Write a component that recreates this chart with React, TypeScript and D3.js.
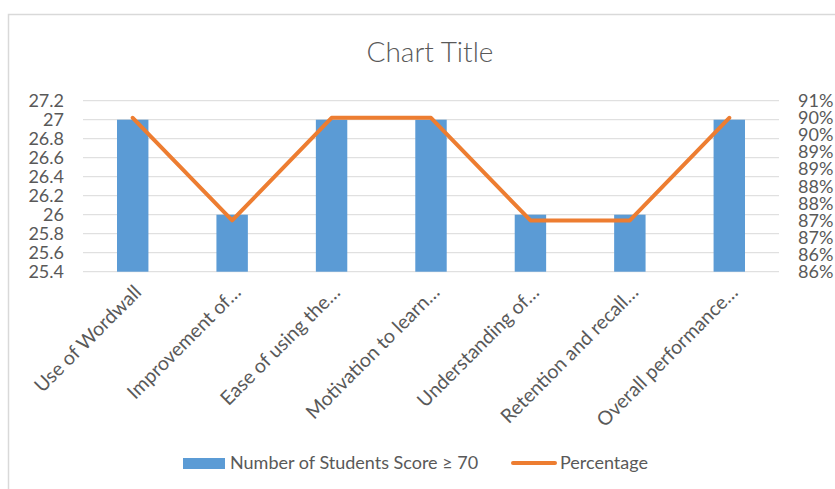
import React, { useRef, useEffect } from 'react';
import * as d3 from 'd3';

const categories = [
  'Use of Wordwall',
  'Improvement of…',
  'Ease of using the…',
  'Motivation to learn…',
  'Understanding of…',
  'Retention and recall…',
  'Overall performance…',
];
const studentCounts = [27, 26, 27, 27, 26, 26, 27];
const percentages = [0.905, 0.875, 0.905, 0.905, 0.875, 0.875, 0.905];

const leftTicks = [25.4, 25.6, 25.8, 26, 26.2, 26.4, 26.6, 26.8, 27, 27.2];
const rightTicks = [0.86, 0.865, 0.87, 0.875, 0.88, 0.885, 0.89, 0.895, 0.9, 0.905, 0.91];
const rightTickLabels = ['86%', '86%', '87%', '87%', '88%', '88%', '89%', '89%', '90%', '90%', '91%'];

const barLabel = 'Number of Students Score ≥ 70';
const lineLabel = 'Percentage';

const App: React.FC = () => {
  const svgRef = useRef<SVGSVGElement | null>(null);

  useEffect(() => {
    if (!svgRef.current) return;
    document.body.style.margin = '0';

    d3.select(svgRef.current).selectAll('*').remove();

    const width = 835;
    const height = 489;
    const font = 'Lato, "Open Sans", sans-serif';
    const textColor = '#595959';

    const svg = d3
      .select(svgRef.current)
      .attr('width', width)
      .attr('height', height)
      .style('display', 'block')
      .style('background', '#fff');

    // chart area border (runs off right and bottom)
    svg
      .append('rect')
      .attr('x', 8.5)
      .attr('y', 14.5)
      .attr('width', 900)
      .attr('height', 600)
      .attr('fill', 'none')
      .attr('stroke', '#d9d9d9')
      .attr('stroke-width', 1.5);

    const plot = { left: 83, right: 779, top: 100.7, bottom: 271.7 };

    const x = d3
      .scaleBand<string>()
      .domain(categories)
      .range([plot.left, plot.right])
      .paddingInner(0.684)
      .paddingOuter(0.342);
    const xCenter = (c: string) => (x(c) as number) + x.bandwidth() / 2;

    const yLeft = d3.scaleLinear().domain([25.4, 27.2]).range([plot.bottom, plot.top]);
    const yRight = d3.scaleLinear().domain([0.86, 0.91]).range([plot.bottom, plot.top]);

    // gridlines
    svg
      .append('g')
      .selectAll('line')
      .data(leftTicks)
      .join('line')
      .attr('x1', plot.left)
      .attr('x2', plot.right)
      .attr('y1', (d) => yLeft(d))
      .attr('y2', (d) => yLeft(d))
      .attr('stroke', '#d9d9d9')
      .attr('stroke-width', 1);

    // left axis labels
    svg
      .append('g')
      .selectAll('text')
      .data(leftTicks)
      .join('text')
      .attr('x', 64)
      .attr('y', (d) => yLeft(d))
      .attr('dy', '0.35em')
      .attr('text-anchor', 'end')
      .attr('font-family', font)
      .attr('font-size', 18)
      .attr('fill', textColor)
      .text((d) => d3.format('~g')(d));

    // right axis labels
    svg
      .append('g')
      .selectAll('text')
      .data(rightTicks)
      .join('text')
      .attr('x', 798)
      .attr('y', (d) => yRight(d))
      .attr('dy', '0.35em')
      .attr('font-family', font)
      .attr('font-size', 18)
      .attr('fill', textColor)
      .text((d, i) => rightTickLabels[i]);

    // bars
    svg
      .append('g')
      .selectAll('rect')
      .data(studentCounts)
      .join('rect')
      .attr('x', (d, i) => x(categories[i]) as number)
      .attr('y', (d) => yLeft(d))
      .attr('width', x.bandwidth())
      .attr('height', (d) => plot.bottom - yLeft(d))
      .attr('fill', '#5b9bd5');

    // percentage line
    const line = d3
      .line<number>()
      .x((d, i) => xCenter(categories[i]))
      .y((d) => yRight(d));

    svg
      .append('path')
      .datum(percentages)
      .attr('d', line)
      .attr('fill', 'none')
      .attr('stroke', '#ed7d31')
      .attr('stroke-width', 4)
      .attr('stroke-linejoin', 'round')
      .attr('stroke-linecap', 'round');

    // category labels, rotated
    svg
      .append('g')
      .selectAll('text')
      .data(categories)
      .join('text')
      .attr('transform', (d) => `translate(${xCenter(d) + 5},${plot.bottom + 17}) rotate(-45)`)
      .attr('text-anchor', 'end')
      .attr('dy', '0.35em')
      .attr('font-family', font)
      .attr('font-size', 19.5)
      .attr('fill', textColor)
      .text((d) => d);

    // title
    svg
      .append('text')
      .attr('x', 430)
      .attr('y', 62)
      .attr('text-anchor', 'middle')
      .attr('font-family', font)
      .attr('font-weight', 300)
      .attr('font-size', 28)
      .attr('fill', textColor)
      .text('Chart Title');

    // legend
    const legend = svg.append('g').attr('font-family', font).attr('font-size', 18).attr('fill', textColor);
    legend
      .append('rect')
      .attr('x', 183)
      .attr('y', 458)
      .attr('width', 42)
      .attr('height', 11)
      .attr('fill', '#5b9bd5');
    legend.append('text').attr('x', 230).attr('y', 463).attr('dy', '0.35em').text(barLabel);
    legend
      .append('line')
      .attr('x1', 513)
      .attr('x2', 555)
      .attr('y1', 463)
      .attr('y2', 463)
      .attr('stroke', '#ed7d31')
      .attr('stroke-width', 4)
      .attr('stroke-linecap', 'round');
    legend.append('text').attr('x', 560).attr('y', 463).attr('dy', '0.35em').text(lineLabel);
  }, []);

  return <svg ref={svgRef}></svg>;
};

export default App;
